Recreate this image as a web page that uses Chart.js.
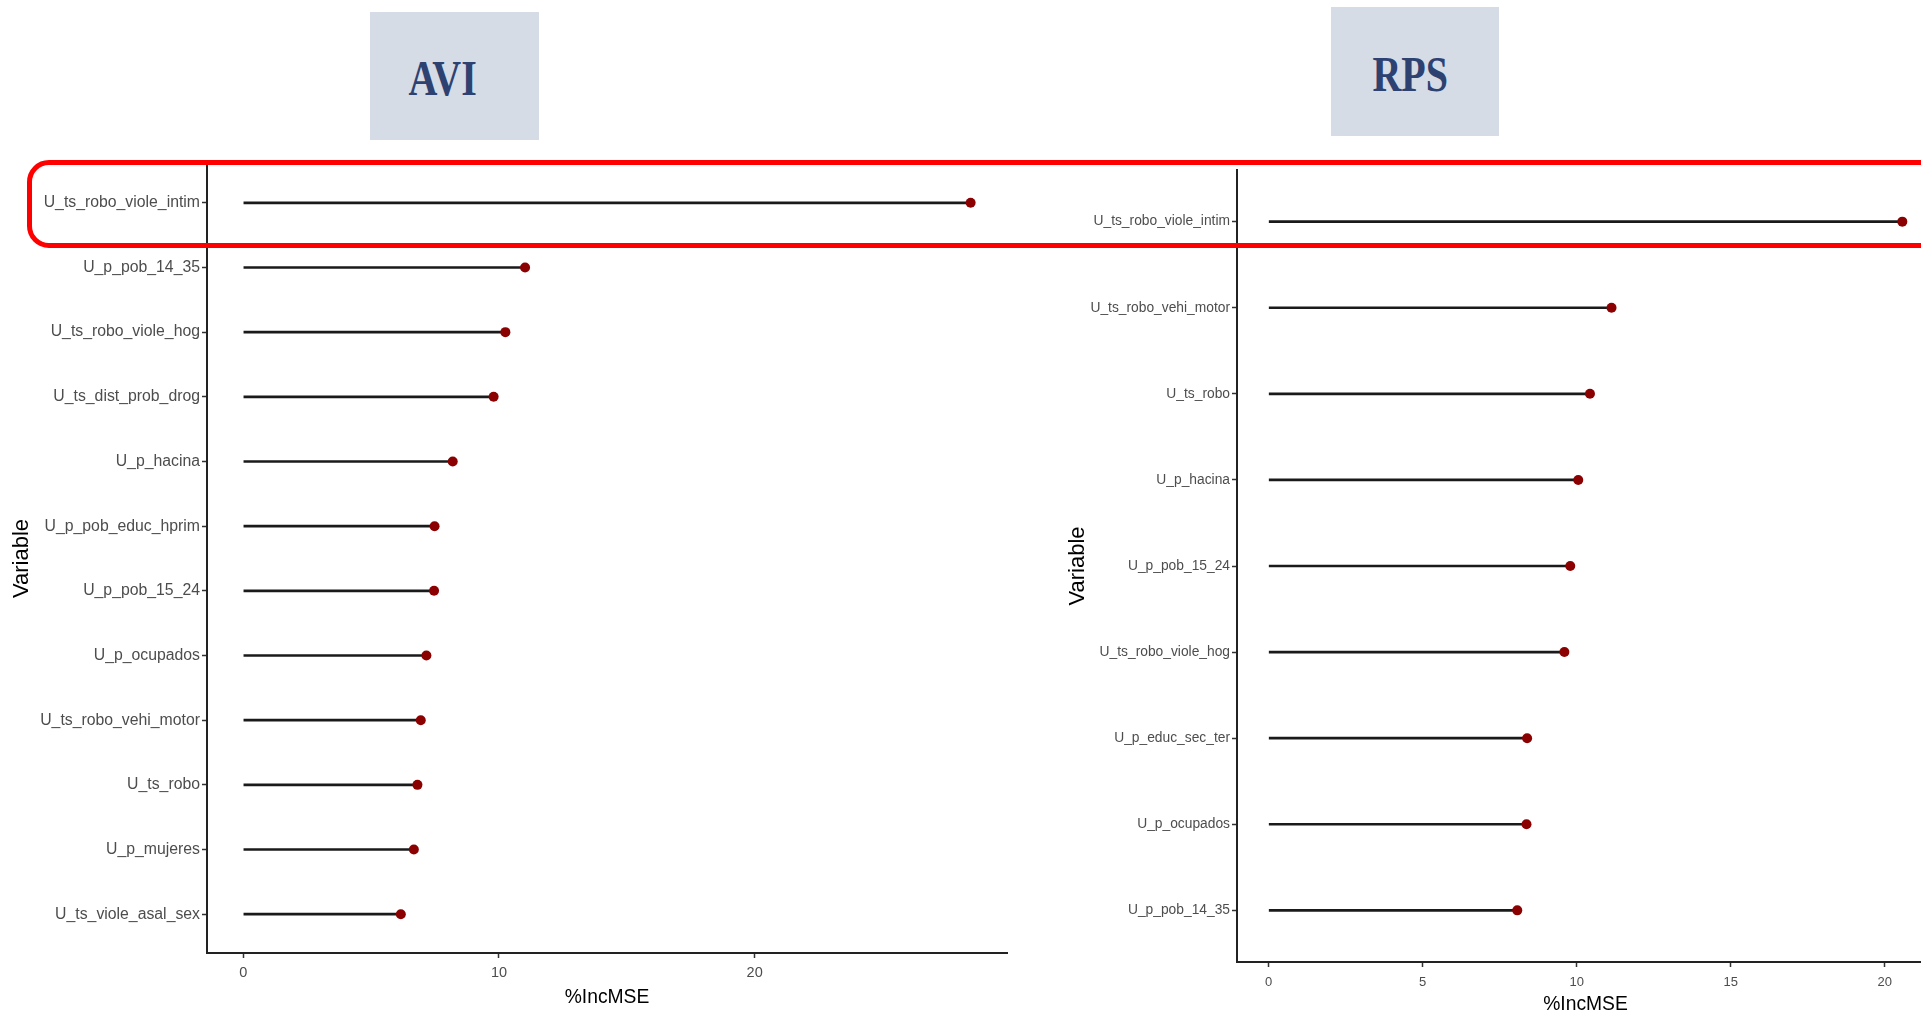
<!DOCTYPE html>
<html lang="es">
<head>
    <meta charset="UTF-8">
    <title>%IncMSE - AVI y RPS</title>
    <script src="https://cdn.jsdelivr.net/npm/chart.js"></script>
    <style>
        body {
            margin: 0;
            width: 1921px;
            height: 1010px;
            overflow: hidden;
            background: #ffffff;
            position: relative;
            font-family: "Liberation Sans", Arial, sans-serif;
        }

        canvas {
            position: absolute;
            top: 0;
        }

        /* Cajas de titulo */
        .caja {
            position: absolute;
            background: #d6dce5;
            color: #2e4272;
            font-family: "Liberation Serif", "Times New Roman", serif;
            font-weight: bold;
            font-size: 50px;
            display: flex;
            align-items: center;
            justify-content: center;
        }

        .caja span {
            display: inline-block;
            transform: scaleX(0.8);
        }

        /* Marco rojo */
        .marco {
            position: absolute;
            left: 27px;
            top: 160px;
            width: 1990px;
            height: 78px;
            border: 5px solid #ff0000;
            border-radius: 22px;
            z-index: 5;
        }
    </style>
</head>
<body>

    <div class="caja" style="left:370px; top:12px; width:169px; height:128px;"><span style="margin-left:-24px; margin-top:4px;">AVI</span></div>
    <div class="caja" style="left:1331px; top:7px; width:168px; height:129px;"><span style="margin-left:-10px; margin-top:4px;">RPS</span></div>

    <canvas id="chartAVI" width="1030" height="1030" style="left:0px;"></canvas>
    <canvas id="chartRPS" width="900" height="1030" style="left:1050px;"></canvas>

    <div class="marco"></div>

    <script>
        // Datos AVI
        var aviVars = ['U_ts_robo_viole_intim', 'U_p_pob_14_35', 'U_ts_robo_viole_hog', 'U_ts_dist_prob_drog',
            'U_p_hacina', 'U_p_pob_educ_hprim', 'U_p_pob_15_24', 'U_p_ocupados',
            'U_ts_robo_vehi_motor', 'U_ts_robo', 'U_p_mujeres', 'U_ts_viole_asal_sex'];
        var aviIncMSE = [28.45, 11.02, 10.25, 9.79, 8.19, 7.48, 7.46, 7.16, 6.94, 6.81, 6.67, 6.16];
        var aviTicks = [0, 10, 20];

        // Datos RPS
        var rpsVars = ['U_ts_robo_viole_intim', 'U_ts_robo_vehi_motor', 'U_ts_robo', 'U_p_hacina',
            'U_p_pob_15_24', 'U_ts_robo_viole_hog', 'U_p_educ_sec_ter', 'U_p_ocupados', 'U_p_pob_14_35'];
        var rpsIncMSE = [20.57, 11.13, 10.43, 10.05, 9.79, 9.60, 8.39, 8.37, 8.07];
        var rpsTicks = [0, 5, 10, 15, 20];

        var tickGrey = '#4d4d4d';

        // Grafico de paletas (lollipop) con barras finas + puntos
        function lollipop(id, vars, values, xTicks, cfg) {
            var pts = values.map(function (v, i) { return { x: v, y: i }; });
            var top = Math.max.apply(null, values);
            return new Chart(document.getElementById(id), {
                type: 'bar',
                data: {
                    datasets: [{
                        type: 'bar',
                        indexAxis: 'y',
                        data: pts,
                        backgroundColor: '#1a1a1a',
                        barThickness: 2,
                        order: 2
                    }, {
                        type: 'scatter',
                        data: pts,
                        pointRadius: 5,
                        pointBackgroundColor: '#8b0000',
                        pointBorderWidth: 0,
                        order: 1
                    }]
                },
                options: {
                    responsive: false,
                    animation: false,
                    layout: { padding: { top: cfg.top, right: cfg.right, left: 0, bottom: 0 } },
                    plugins: { legend: { display: false }, tooltip: { enabled: false } },
                    scales: {
                        x: {
                            type: 'linear',
                            position: 'bottom',
                            offset: false,
                            min: -0.05 * top,
                            max: 1.05 * top,
                            afterBuildTicks: function (s) { s.ticks = xTicks.map(function (v) { return { value: v }; }); },
                            afterFit: function (s) { s.height = cfg.xHeight; },
                            grid: { offset: false, drawOnChartArea: false, tickLength: cfg.xTickLen, tickColor: '#333333', tickWidth: 1.5 },
                            border: { color: '#222222', width: 2 },
                            ticks: { color: tickGrey, padding: cfg.xTickPad, font: { family: 'Liberation Sans', size: cfg.xTickSize } },
                            title: {
                                display: true,
                                text: '%IncMSE',
                                color: '#000000',
                                padding: { top: 0, bottom: cfg.xTitlePad },
                                font: { family: 'Liberation Sans', size: 19.3 }
                            }
                        },
                        y: {
                            type: 'linear',
                            position: 'left',
                            reverse: true,
                            offset: false,
                            min: -0.6,
                            max: vars.length - 1 + 0.6,
                            afterBuildTicks: function (s) { s.ticks = vars.map(function (v, i) { return { value: i }; }); },
                            afterFit: function (s) { s.width = cfg.yWidth; },
                            grid: { offset: false, drawOnChartArea: false, tickLength: 5, tickColor: '#333333', tickWidth: 1.5 },
                            border: { color: '#222222', width: 2 },
                            ticks: {
                                color: tickGrey,
                                padding: 2,
                                autoSkip: false,
                                font: { family: 'Liberation Sans', size: cfg.yTickSize },
                                callback: function (v) { return vars[v]; }
                            },
                            title: {
                                display: true,
                                text: 'Variable',
                                color: '#000000',
                                padding: { top: cfg.yTitlePad, bottom: 0 },
                                font: { family: 'Liberation Sans', size: 22 }
                            }
                        }
                    }
                }
            });
        }

        var chartAVI = lollipop('chartAVI', aviVars, aviIncMSE, aviTicks, {
            top: 164, right: 23, xHeight: 77, yWidth: 207,
            xTickLen: 5, xTickPad: 6.5, xTickSize: 14.5, xTitlePad: 21,
            yTickSize: 15.8, yTitlePad: 8.8
        });

        var chartRPS = lollipop('chartRPS', rpsVars, rpsIncMSE, rpsTicks, {
            top: 170, right: 16, xHeight: 68, yWidth: 187,
            xTickLen: 5, xTickPad: 7.5, xTickSize: 13, xTitlePad: 14,
            yTickSize: 13.8, yTitlePad: 14.8
        });
    </script>

</body>
</html>
